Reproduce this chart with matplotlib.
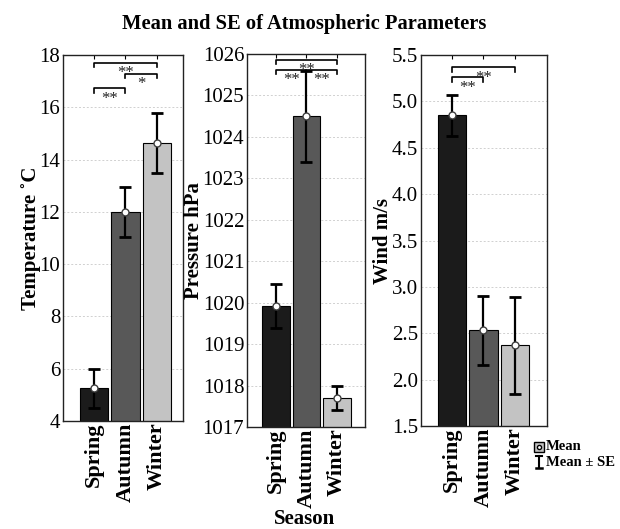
import matplotlib
matplotlib.use("Agg")
import matplotlib.pyplot as plt
from matplotlib.lines import Line2D
import numpy as np

plt.rcParams['font.family'] = ['Liberation Serif', 'DejaVu Serif']

# ---- data ----
seasons = ["Spring", "Autumn", "Winter"]
temp_mean = [5.25, 12.0, 14.65]
temp_se = [0.75, 0.95, 1.15]
pres_mean = [1019.92, 1024.5, 1017.7]
pres_se = [0.53, 1.1, 0.28]
wind_mean = [4.85, 2.53, 2.37]
wind_se = [0.22, 0.37, 0.52]

ylabels = ["Temperature ˚C", "Pressure hPa", "Wind m/s"]
ylims = [(4, 18), (1017, 1026), (1.5, 5.5)]
yticks = [np.arange(4, 18.1, 2), np.arange(1017, 1026.1, 1), np.arange(1.5, 5.51, 0.5)]
ytick_fmt = ["{:.0f}", "{:.0f}", "{:.1f}"]

# significance: (i, j, label, bracket height)
temp_sig = [(0, 1, "**", 16.72), (1, 2, "*", 17.28), (0, 2, "**", 17.7)]
pres_sig = [(0, 1, "**", 1025.62), (1, 2, "**", 1025.62), (0, 2, "**", 1025.86)]
wind_sig = [(0, 1, "**", 5.26), (0, 2, "**", 5.37)]

bar_colors = ["#1b1b1b", "#585858", "#c3c3c3"]

# ---- layout ----
W, H = 620, 529
fig = plt.figure(figsize=(W / 100, H / 100), dpi=100)
boxes = [(63, 183, 55, 421), (247, 365, 54, 427), (421, 547, 55, 426)]
xlims = [(-0.98, 2.83), (-0.95, 2.92), (-0.98, 3.02)]

panels = [
    (temp_mean, temp_se, temp_sig),
    (pres_mean, pres_se, pres_sig),
    (wind_mean, wind_se, wind_sig),
]

x = np.arange(len(seasons))
for k, ((mean, se, sig), (l, r, t, b)) in enumerate(zip(panels, boxes)):
    ax = fig.add_axes([l / W, 1 - b / H, (r - l) / W, (b - t) / H])
    ax.set_axisbelow(True)
    ax.yaxis.grid(True, color="#d0d0d0", linestyle=(0, (2, 2)), linewidth=0.7)
    ax.bar(x, mean, width=0.9, color=bar_colors, edgecolor="black", linewidth=0.8, zorder=2)
    ax.errorbar(x, mean, yerr=se, fmt="none", ecolor="black", elinewidth=1.6,
                capsize=4.5, capthick=2.0, zorder=3)
    ax.plot(x, mean, linestyle="none", marker="o", markersize=5,
            markerfacecolor="white", markeredgecolor="#404040", markeredgewidth=1.0, zorder=4)
    ax.set_xlim(*xlims[k])
    ax.set_ylim(*ylims[k])
    ax.set_yticks(yticks[k])
    ax.set_yticklabels([ytick_fmt[k].format(v) for v in yticks[k]], fontsize=15)
    ax.set_xticks(x)
    ax.set_xticklabels(seasons, rotation=90, fontsize=16, fontweight="bold")
    ax.tick_params(axis="x", direction="in", length=3, top=True, bottom=False, pad=1)
    ax.tick_params(axis="y", direction="in", length=0, pad=2)
    ax.set_ylabel(ylabels[k], fontsize=15, fontweight="bold", labelpad=-1)
    for sp in ax.spines.values():
        sp.set_linewidth(1.0)
        sp.set_color("#222222")

    yr = ylims[k][1] - ylims[k][0]
    hook = yr * 0.012
    for (i, j, lab, h) in sig:
        ax.plot([i, i, j, j], [h - hook, h, h, h - hook], color="black", linewidth=1.2, zorder=5)
        ax.text((i + j) / 2, h - hook * 0.6, lab, ha="center", va="top", fontsize=12,
                color="#222222", zorder=6)

# ---- title / shared labels ----
fig.text(304 / W, 1 - 29 / H, "Mean and SE of Atmospheric Parameters", ha="center", va="baseline",
         fontsize=14.8, fontweight="bold")
fig.text(305 / W, 1 - 524 / H, "Season", ha="center", va="baseline", fontsize=15, fontweight="bold")

# ---- legend ----
lx = 539 / W
fig.add_artist(Line2D([lx], [1 - 447 / H], marker="s", markersize=7, markerfacecolor="#c3c3c3",
                      markeredgecolor="black", linestyle="none", transform=fig.transFigure))
fig.add_artist(Line2D([lx], [1 - 447 / H], marker="o", markersize=3, markerfacecolor="white",
                      markeredgecolor="black", linestyle="none", transform=fig.transFigure))
fig.add_artist(Line2D([lx, lx], [1 - 456 / H, 1 - 468 / H], color="black", linewidth=1.5,
                      transform=fig.transFigure))
fig.add_artist(Line2D([lx - 3 / W, lx + 3 / W], [1 - 456 / H, 1 - 456 / H], color="black",
                      linewidth=1.5, transform=fig.transFigure))
fig.add_artist(Line2D([lx - 3 / W, lx + 3 / W], [1 - 468 / H, 1 - 468 / H], color="black",
                      linewidth=1.8, transform=fig.transFigure))
fig.text(546 / W, 1 - 447 / H, "Mean", ha="left", va="center", fontsize=10.5, fontweight="bold")
fig.text(546 / W, 1 - 462 / H, "Mean ± SE", ha="left", va="center", fontsize=10.5, fontweight="bold")

fig.savefig("out.png", dpi=100)
